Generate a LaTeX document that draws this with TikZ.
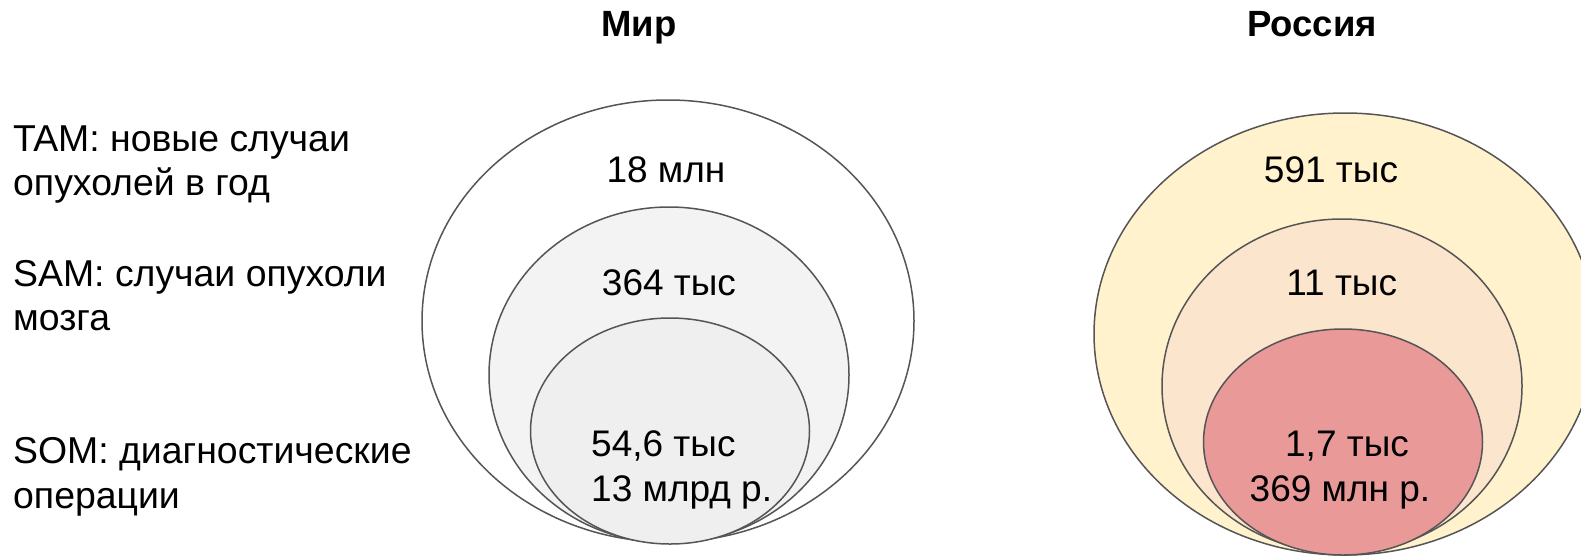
\documentclass[tikz,border=0pt]{standalone}
\usepackage{fontspec}
\setmainfont{Liberation Sans}
\usetikzlibrary{shapes.geometric}
\definecolor{edgegray}{HTML}{555555}
\definecolor{wmid}{HTML}{F3F3F3}
\definecolor{winn}{HTML}{EFEFEF}
\definecolor{rout}{HTML}{FFF2CC}
\definecolor{rmid}{HTML}{FCE5CD}
\definecolor{rinn}{HTML}{EA9999}
\tikzset{
  ring/.style={ellipse, draw=edgegray, line width=1.5pt, inner sep=0pt, outer sep=0pt},
  val/.style={inner sep=0pt, anchor=base, font=\fontsize{37}{43.5}\selectfont},
  vall/.style={inner sep=0pt, anchor=base west, font=\fontsize{37}{43.5}\selectfont},
  lbl/.style={inner sep=0pt, anchor=base west, font=\fontsize{37.4}{43.5}\selectfont},
  ttl/.style={inner sep=0pt, anchor=base, font=\fontsize{36.5}{42}\selectfont\bfseries},
}
\begin{document}
\begin{tikzpicture}[x=1pt,y=-1pt]
\useasboundingbox (0,0) rectangle (1581,555);
\clip (0,0) rectangle (1581,555);
\fill[white] (0,0) rectangle (1581,555);
% titles
\node[ttl] (tmir) at (639,36.7) {Мир};
\node[ttl] (truss) at (1312,36.7) {Россия};
% left labels
\node[lbl] (tam1) at (13,151.7) {TAM: новые случаи};
\node[lbl] (tam2) at (13,195) {опухолей в год};
\node[lbl] (sam1) at (13,286.7) {SAM: случаи опухоли};
\node[lbl] (sam2) at (13,330) {мозга};
\node[lbl] (som1) at (13,463.3) {SOM: диагностические};
\node[lbl] (som2) at (13,508.3) {операции};
% world ellipses
\node[ring, fill=white, minimum width=492pt, minimum height=442pt] (wo) at (668,321) {};
\node[ring, fill=wmid, minimum width=360pt, minimum height=336pt] (wm) at (669,375) {};
\node[ring, fill=winn, minimum width=279pt, minimum height=226pt] (wi) at (670,431) {};
\node[val] (w1) at (666,182.7) {18 млн};
\node[val] (w2) at (669,295) {364 тыс};
\node[vall] (w3) at (591,456.7) {54,6 тыс};
\node[vall] (w4) at (591,501.7) {13 млрд р.};
% russia ellipses
\node[ring, fill=rout, minimum width=502pt, minimum height=442pt] (ro) at (1345,334) {};
\node[ring, fill=rmid, minimum width=360pt, minimum height=334pt] (rm) at (1342,386) {};
\node[ring, fill=rinn, minimum width=279pt, minimum height=226pt] (ri) at (1343,442) {};
\node[val] (r1) at (1331,182.7) {591 тыс};
\node[val] (r2) at (1341.7,295) {11 тыс};
\node[val] (r3) at (1347,456.7) {1,7 тыс};
\node[val] (r4) at (1340,501.7) {369 млн р.};
\end{tikzpicture}
\end{document}
